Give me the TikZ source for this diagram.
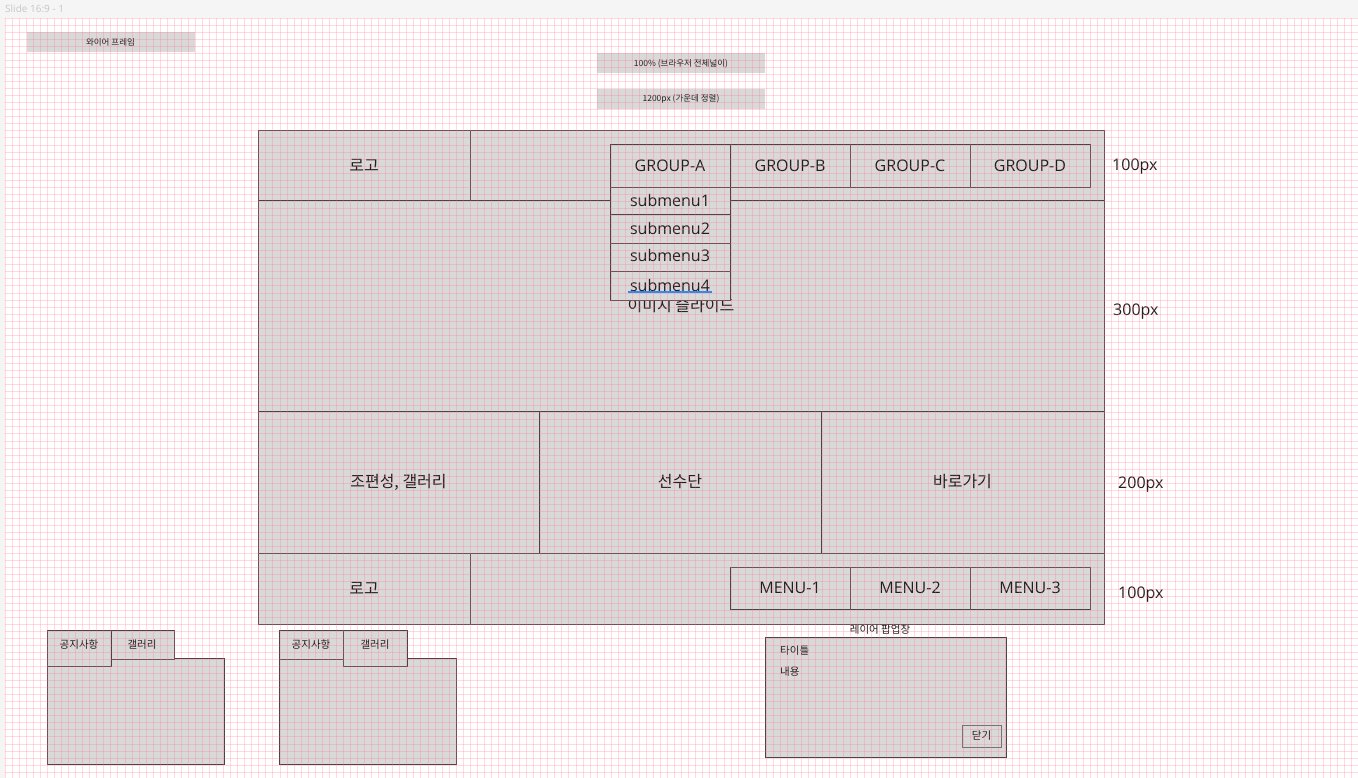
\documentclass[tikz,border=0pt]{standalone}
\usepackage{fontspec}
\setmainfont{Noto Sans CJK KR}
\newfontfamily\latinfont{Open Sans}

\definecolor{wire}{HTML}{D9D9D9}
\definecolor{edge}{HTML}{4A4343}
\definecolor{ink}{HTML}{1E1E1E}
\definecolor{canvas}{HTML}{F5F5F5}
\definecolor{gridpink}{RGB}{255,110,135}
\definecolor{spell}{HTML}{2A8CF0}

\newcommand{\bigtxt}{\fontsize{16}{19}\selectfont}
\newcommand{\midtxt}{\fontsize{10.5}{12}\selectfont}
\newcommand{\tinytxt}{\fontsize{8.5}{10}\selectfont}

\begin{document}
\begin{tikzpicture}[x=1pt,y=-1pt,
    cell/.style={draw=edge,fill=wire,line width=0.8pt,inner sep=0pt,text=ink,font=\bigtxt},
    latin/.style={font=\latinfont\bigtxt},
    tag/.style={fill=wire,inner sep=0pt,text=ink,font=\tinytxt,minimum width=168,minimum height=20},
    tab/.style={cell,font=\midtxt,minimum width=64,minimum height=29,text height=8pt,text depth=0pt},
    activetab/.style={tab,minimum height=36,text depth=7pt},
    note/.style={inner sep=0pt,text=ink,font=\midtxt},
    size/.style={anchor=west,inner sep=0pt,text=ink,latin}]
        \useasboundingbox (0,0) rectangle (1358,778);

        % canvas and slide
        \fill[canvas] (0,0) rectangle (1358,778);
        \fill[white] (5,18) rectangle (1358,778);
        \node[anchor=west,inner sep=0pt,text=black!22,font=\latinfont\fontsize{10}{12}\selectfont] (slide) at (5,9) {Slide 16:9 - 1};

        % draw tags
        \node[tag] (title) at (110.5,42) {와이어 프레임};
        \node[tag] (full) at (681,63.5) {100\% (브라우저 전체넓이)};
        \node[tag] (fixed) at (681,99) {1200px (가운데 정렬)};

        % draw header
        \node[cell,minimum width=212,minimum height=70] (logo) at (364,165) {로고};
        \node[cell,minimum width=634,minimum height=70] (gnb) at (787,165) {};

        % draw image slide
        \node[cell,minimum width=846,minimum height=211] (visual) at (681,305.5) {\raisebox{-1pt}{이미지 슬라이드}};

        % draw group menus
        \foreach \g [count=\i] in {A,B,C,D}
          \node[cell,latin,minimum width=120,minimum height=43] (group\g) at ({550+120*\i},165.5) {GROUP-\g};

        % draw submenus
        \node[cell,latin,minimum width=120,minimum height=27] (sub1) at (670,200.5) {submenu1};
        \node[cell,latin,minimum width=120,minimum height=29] (sub2) at (670,228.5) {submenu2};
        \node[cell,latin,minimum width=120,minimum height=28] (sub3) at (670,257) {\raisebox{3pt}{submenu3}};
        \node[cell,latin,minimum width=120,minimum height=29] (sub4) at (670,285.5) {submenu4};
        \draw[spell,line width=1.6pt] (628,292) -- (712,292);

        % draw contents row
        \node[cell,minimum width=281,minimum height=142] (team) at (398.5,482) {\raisebox{-1.5pt}{조편성, 갤러리}};
        \node[cell,minimum width=282,minimum height=142] (player) at (680,482) {\raisebox{-1.5pt}{선수단}};
        \node[cell,minimum width=283,minimum height=142] (quick) at (962.5,482) {\raisebox{-1.5pt}{바로가기}};

        % draw footer
        \node[cell,minimum width=212,minimum height=71] (flogo) at (364,588.5) {로고};
        \node[cell,minimum width=634,minimum height=71] (fbar) at (787,588.5) {};
        \foreach \m in {1,2,3}
          \node[cell,latin,minimum width=120,minimum height=42] (menu\m) at ({670+120*\m},588) {MENU-\m};

        % draw heights
        \node[size] (h1) at (1112,167) {100px};
        \node[size] (h2) at (1113,312) {300px};
        \node[size] (h3) at (1118,485) {200px};
        \node[size] (h4) at (1118,595) {100px};

        % draw first tab box
        \node[cell,minimum width=177,minimum height=106] (panelA) at (135.5,711) {};
        \node[tab] (galleryA) at (142,644.5) {갤러리};
        \node[activetab] (noticeA) at (79,648) {공지사항};

        % draw second tab box
        \node[cell,minimum width=177,minimum height=106] (panelB) at (367.5,711) {};
        \node[tab] (noticeB) at (311,644.5) {공지사항};
        \node[activetab] (galleryB) at (375,648) {갤러리};

        % draw layer popup
        \node[note] (popcap) at (880,630) {레이어 팝업창};
        \node[cell,minimum width=241,minimum height=120] (popup) at (885.5,697) {};
        \node[note,anchor=west] (poptitle) at (780,651) {타이틀};
        \node[note,anchor=west] (popbody) at (780,672) {내용};
        \node[cell,draw=black!55,line width=1pt,font=\midtxt,minimum width=39,minimum height=22] (close) at (981.5,736) {닫기};

        % draw layout grid
        \foreach \i in {0,...,191}
          \draw[gridpink,opacity=0.25,line width=0.6pt] ({5+7.047*\i},18) -- ({5+7.047*\i},778);
        \foreach \j in {0,...,107}
          \draw[gridpink,opacity=0.25,line width=0.6pt] (5,{18+7.047*\j}) -- (1358,{18+7.047*\j});
        \end{tikzpicture}
\end{document}
